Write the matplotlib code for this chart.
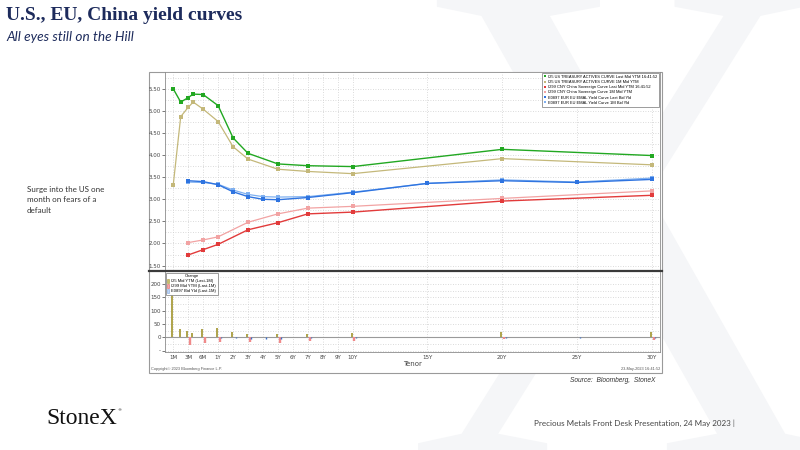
"""
yield curves slide: US / EU / China, last vs 1M ago + change panel
output: out.png
"""
import numpy as np
import matplotlib
matplotlib.use("Agg")
import matplotlib.pyplot as plt
from matplotlib.lines import Line2D
from matplotlib.patches import Rectangle, PathPatch, Patch
from matplotlib.textpath import TextPath
from matplotlib.font_manager import FontProperties
from matplotlib.transforms import Affine2D, ScaledTranslation

# ---- data (tenor in years, yields in %) ----
us_tenor = [1/12, 2/12, 3/12, 4/12, 0.5, 1, 2, 3, 5, 7, 10, 20, 30]
us_last = [5.50, 5.20, 5.30, 5.38, 5.37, 5.12, 4.39, 4.04, 3.80, 3.76, 3.74, 4.13, 3.99]
us_1m = [3.32, 4.87, 5.08, 5.20, 5.04, 4.76, 4.19, 3.91, 3.68, 3.63, 3.58, 3.92, 3.78]

cn_tenor = [0.25, 0.5, 1, 3, 5, 7, 10, 20, 30]
cn_last = [1.74, 1.86, 1.98, 2.31, 2.47, 2.67, 2.71, 2.96, 3.09]
cn_1m = [2.02, 2.08, 2.15, 2.48, 2.67, 2.80, 2.84, 3.02, 3.19]

eu_tenor = [0.25, 0.5, 1, 2, 3, 4, 5, 7, 10, 15, 20, 25, 30]
eu_last = [3.42, 3.40, 3.33, 3.17, 3.06, 3.00, 2.99, 3.04, 3.15, 3.36, 3.42, 3.38, 3.45]
eu_1m = [3.39, 3.38, 3.34, 3.21, 3.11, 3.06, 3.05, 3.06, 3.16, 3.36, 3.44, 3.39, 3.48]

tick_tenor = [1/12, 0.25, 0.5, 1, 2, 3, 4, 5, 6, 7, 8, 9, 10, 15, 20, 25, 30]
tick_labels = ["1M", "3M", "6M", "1Y", "2Y", "3Y", "4Y", "5Y", "6Y", "7Y", "8Y", "9Y",
               "10Y", "15Y", "20Y", "25Y", "30Y"]

legend_top = [
    "I25 US TREASURY ACTIVES CURVE Last Mid YTM 16:41:52",
    "I25 US TREASURY ACTIVES CURVE 1M Mid YTM",
    "I299 CNY China Sovereign Curve Last Mid YTM 16:41:52",
    "I299 CNY China Sovereign Curve 1M Mid YTM",
    "E0897 EUR EU EMAL Yield Curve Last Bid Yld",
    "E0897 EUR EU EMAL Yield Curve 1M Bid Yld",
]
legend_bot = ["I25 Mid YTM (Last-1M)", "I299 Mid YTM (Last-1M)", "E0897 Bid Yld (Last-1M)"]

# change in bp = last - 1M
us_chg = (np.array(us_last) - np.array(us_1m)) * 100
cn_chg = (np.array(cn_last) - np.array(cn_1m)) * 100
eu_chg = (np.array(eu_last) - np.array(eu_1m)) * 100

C_US, C_US1 = "#22a822", "#c4b87a"
C_CN, C_CN1 = "#e23b3b", "#f2a3a3"
C_EU, C_EU1 = "#2f74e0", "#7fb0f0"
NAVY = "#1d2b5c"

# Bloomberg tenor axis: 1M/3M/6M/1Y evenly spaced, then linear in years
KN_T = [-1/12, 1/12, 0.25, 0.5, 1, 40]
KN_P = [-1, 0, 1, 2, 3, 42]


def fwd(t):
    return np.interp(t, KN_T, KN_P)


def inv(p):
    return np.interp(p, KN_P, KN_T)


W, H = 800, 450


def fx(px):
    return px / W


def fy(py):
    return 1 - py / H


fig = plt.figure(figsize=(8, 4.5), dpi=100)
fig.patch.set_facecolor("white")

# ---- watermark X ----
tp = TextPath((0, 0), "X", size=1, prop=FontProperties(family="Liberation Serif"))
ext = tp.get_extents()
x0, x1, y0, y1 = fx(418), fx(830), fy(462), fy(-12)
tr = (Affine2D().translate(-ext.x0, -ext.y0)
      .scale((x1 - x0) / ext.width, (y1 - y0) / ext.height).translate(x0, y0))
fig.add_artist(PathPatch(tr.transform_path(tp), transform=fig.transFigure,
                         facecolor="#f5f6f8", edgecolor="none", zorder=-5))

# chart box
fig.add_artist(Rectangle((fx(149), fy(373)), fx(662) - fx(149), fy(72) - fy(373),
                         transform=fig.transFigure, facecolor="white",
                         edgecolor="#9a9a9a", lw=0.8, zorder=-4))

ax = fig.add_axes([fx(165), fy(270), fx(660) - fx(165), fy(72) - fy(270)])
axb = fig.add_axes([fx(165), fy(352), fx(660) - fx(165), fy(272) - fy(352)])

for a in (ax, axb):
    a.set_xscale("function", functions=(fwd, inv))
    a.set_xlim(inv(-0.55), inv(32.55))
    a.set_xticks(tick_tenor)
    a.set_xticks([], minor=True)
    a.grid(True, which="both", color="#cfcfcf", ls=(0, (1, 2)), lw=0.6)
    a.set_axisbelow(True)
    for s in a.spines.values():
        s.set_color("#8c8c8c")
        s.set_linewidth(0.6)
    a.tick_params(labelsize=4, colors="#444444", length=2, width=0.5, pad=1)

# ---- top panel: curves ----
mk = dict(marker="s", ms=2.4, mew=0)
ax.plot(us_tenor, us_1m, color=C_US1, lw=0.9, **mk)
ax.plot(us_tenor, us_last, color=C_US, lw=1.0, **mk)
ax.plot(cn_tenor, cn_1m, color=C_CN1, lw=0.9, **mk)
ax.plot(cn_tenor, cn_last, color=C_CN, lw=1.0, **mk)
ax.plot(eu_tenor, eu_1m, color=C_EU1, lw=0.9, **mk)
ax.plot(eu_tenor, eu_last, color=C_EU, lw=1.0, **mk)

ax.set_ylim(1.40, 5.88)
ax.set_yticks(np.arange(1.5, 5.51, 0.5))
ax.set_yticks(np.arange(1.75, 5.8, 0.5), minor=True)
ax.yaxis.set_major_formatter(plt.FormatStrFormatter("%.2f"))
ax.tick_params(axis="y", which="minor", length=0)
ax.tick_params(axis="x", length=0, labelbottom=False)
ax.spines["bottom"].set_visible(False)

handles = [Line2D([], [], ls="none", marker="s", ms=1.8, mew=0, color=c)
           for c in (C_US, C_US1, C_CN, C_CN1, C_EU, C_EU1)]
leg = ax.legend(handles, legend_top, loc="upper right",
                prop={"family": "Liberation Sans", "size": 2.9},
                handlelength=0.6, handletextpad=0.4, labelspacing=0.3,
                borderpad=0.5, borderaxespad=0.2, fancybox=False, framealpha=1)
leg.get_frame().set_edgecolor("#8c8c8c")
leg.get_frame().set_linewidth(0.6)

# ---- bottom panel: change bars (bp) ----
def shifted(px):
    return axb.transData + ScaledTranslation(px / 100, 0, fig.dpi_scale_trans)


axb.vlines(us_tenor, 0, us_chg, color="#a89c3c", lw=1.3, transform=shifted(-1.0))
axb.vlines(cn_tenor, 0, cn_chg, color="#f08a8a", lw=1.7, transform=shifted(1.8))
axb.vlines(eu_tenor, 0, eu_chg, color="#3b6fc8", lw=1.0, transform=shifted(3.4))
axb.axhline(0, color="#9a9a9a", lw=0.8, zorder=1)

axb.set_ylim(-55, 245)
axb.set_yticks([-50, 0, 50, 100, 150, 200])
axb.set_yticklabels(["-", "0", "50", "100", "150", "200"])
axb.set_yticks(np.arange(-25, 245, 50), minor=True)
axb.tick_params(axis="y", which="minor", length=0)
axb.set_xticklabels(tick_labels)
axb.tick_params(axis="x", length=0, pad=2)
axb.spines["top"].set_visible(False)
axb.set_xlabel("Tenor", fontsize=5, color="#444444", labelpad=1)

bh = [Patch(facecolor=c, edgecolor=e, lw=0.4) for c, e in
      (("#c9bd6a", "#a89c3c"), ("#f4a8a8", "#e06060"), ("#bcd4f4", "#7fa6e0"))]
leg2 = axb.legend(bh, legend_bot, loc="upper left", title="Change",
                  prop={"family": "Liberation Sans", "size": 3},
                  title_fontproperties={"family": "Liberation Sans", "size": 3},
                  handlelength=0.5, handleheight=0.9, handletextpad=0.4,
                  labelspacing=0.2, borderpad=0.4, borderaxespad=0.15,
                  fancybox=False, framealpha=1)
leg2.get_frame().set_edgecolor("#8c8c8c")
leg2.get_frame().set_linewidth(0.6)

# thick divider across the whole chart box
fig.add_artist(Line2D([fx(149), fx(662)], [fy(271), fy(271)], transform=fig.transFigure,
                      color="#3a3a3a", lw=1.6))

# chart footer inside the box
fig.text(fx(151), fy(369), "Copyright\u00a9 2023 Bloomberg Finance L.P.", fontsize=2.8,
         color="#555555", va="center", family="Liberation Sans")
fig.text(fx(660), fy(369), "23-May-2023 16:41:52", fontsize=2.8, color="#555555",
         va="center", ha="right", family="Liberation Sans")

# ---- slide texts ----
fig.text(fx(6), fy(16), "U.S., EU, China yield curves", fontsize=14, color=NAVY,
         weight="bold", family="Liberation Serif", va="center")
fig.text(fx(6), fy(37), "All eyes still on the Hill", fontsize=9.8, color=NAVY,
         style="italic", family=["Lato", "Open Sans", "DejaVu Sans"], va="center")
fig.text(fx(27), fy(200), "Surge into the US one\nmonth on fears of a\ndefault",
         fontsize=5.8, color="#333333", family=["Lato", "DejaVu Sans"], va="center",
         linespacing=1.55)
fig.text(fx(655), fy(380), "Source:  Bloomberg,  StoneX", fontsize=4.8, color="#333333",
         style="italic", family="Liberation Sans", va="center", ha="right")
fig.text(fx(46), fy(418), "StoneX", fontsize=17, color="#111111",
         family="Liberation Serif", va="center")
fig.text(fx(117), fy(410), "\u00ae", fontsize=3, color="#111111", va="center")
fig.text(fx(534), fy(423), "Precious Metals Front Desk Presentation, 24 May 2023 |",
         fontsize=5.8, color="#444444", family=["Lato", "DejaVu Sans"], va="center")

fig.savefig("out.png", dpi=100)
